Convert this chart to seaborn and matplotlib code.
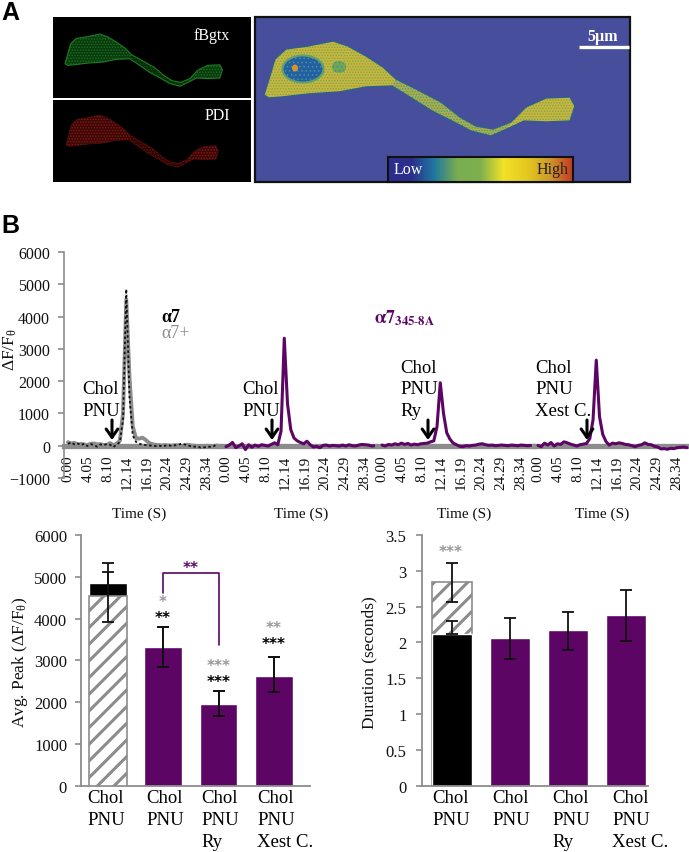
import matplotlib
matplotlib.use('Agg')
import matplotlib.pyplot as plt
import seaborn as sns
import numpy as np
from matplotlib.colors import LinearSegmentedColormap
from matplotlib.patches import Rectangle, Polygon, Ellipse

W, H = 689, 853

# --- traces ---
time_s = [0.00, 0.66, 1.32, 1.98, 2.64, 3.30, 3.96, 4.62, 5.28, 5.94, 6.60, 7.26, 7.92, 8.58, 9.24, 9.90,
          10.56, 11.22, 11.88, 12.54, 13.20, 13.86, 14.52, 15.18, 15.84, 16.50, 17.16, 17.82, 18.48, 19.14,
          19.80, 20.46, 21.12, 21.78, 22.44, 23.10, 23.76, 24.42, 25.08, 25.74, 26.40, 27.06, 27.72, 28.38,
          29.04, 29.70, 30.36]
a7 = [60, 100, 40, 70, 20, 60, -10, 50, 20, -30, 40, 20, 50, 30, -40, 30, 110, 800, 4850, 1500, 320, 120, 60, 40,
      20, 10, 0, -10, 10, -20, 0, 20, -10, 10, 30, 60, 40, 10, -20, -30, -20, -60, -50, -40, -30, -20, 60]
a7_plus = [110, 70, 90, 30, 60, 40, 20, 60, 70, 40, 50, 20, 30, 80, 20, 60, 150, 1000, 4530, 2100, 600, 230, 220, 250,
           180, 90, 50, 30, 20, 10, 20, 10, 0, 20, 10, -10, 10, 30, 10, 0, -10, -20, -10, 0, -10, -20, 10]
mut_pnu = [-30, 20, 100, -60, -10, 60, -120, 30, -50, 20, -20, 30, 10, -10, 40, 90, 30, 450, 3330, 1300, 500, 240, 150, 100,
           60, 140, 30, -40, -20, -60, 10, 20, -10, 10, 0, -10, 20, -10, 30, 0, -10, 20, 40, 30, 20, -10, 0]
mut_ry = [20, -10, 40, 20, 60, 30, 80, 40, 70, 20, 50, 30, 60, 70, 80, 120, 150, 600, 1950, 1000, 400, 200, 80, 30,
          -20, -30, 0, -10, 10, 20, 50, 60, 30, 10, 20, 0, 10, 20, 10, 0, 20, 10, 0, 20, 10, 0, 10]
mut_xest = [10, -30, 80, 20, 100, -10, 60, 40, 120, 90, 50, 20, -10, 30, 50, 70, 220, 800, 2650, 900, 350, 130, 20, 80,
            60, 90, 70, 40, 30, 0, -30, 10, 30, 90, 40, 30, -20, -40, -100, -90, -110, -80, -90, -60, -50, -40, -60]
time_ticks = [0.00, 4.05, 8.10, 12.14, 16.19, 20.24, 24.29, 28.34]
time_labels = ['0.00', '4.05', '8.10', '12.14', '16.19', '20.24', '24.29', '28.34']

# --- bars ---
bar_pos = [0, 1, 2, 3]
peak_vals = [4850, 3310, 1960, 2630]
peak_low = [4370, 2830, 1675, 2234]
peak_high = [5330, 3810, 2258, 3088]
peak_hatch, peak_hatch_low, peak_hatch_high = 4530, 3910, 5122

dur_vals = [2.12, 2.06, 2.17, 2.38]
dur_low = [2.12, 1.77, 1.90, 2.02]
dur_high = [2.30, 2.34, 2.43, 2.73]
dur_hatch, dur_hatch_low, dur_hatch_high = 2.84, 2.56, 3.11
dur_ticks = [0, 0.5, 1, 1.5, 2, 2.5, 3, 3.5]
dur_ticklabels = ['0', '0.5', '1', '1.5', '2', '2.5', '3', '3.5']
bar_labels = ['Chol\nPNU', 'Chol\nPNU', 'Chol\nPNU\nRy', 'Chol\nPNU\nXest C.']

PURPLE = '#5c0565'
GREY = '#8c8c8c'
TXT = '#111111'

sns.set_theme(style='white')
plt.rcParams['font.family'] = ['Liberation Serif', 'DejaVu Serif']
plt.rcParams['mathtext.fontset'] = 'stix'
plt.rcParams['mathtext.default'] = 'regular'

fig = plt.figure(figsize=(W / 100, H / 100), dpi=100, facecolor='white')


def px_axes(l, t, r, b):
    return fig.add_axes([l / W, 1 - b / H, (r - l) / W, (b - t) / H])


# overlay in pixels for the micrographs and free labels
ov = fig.add_axes([0, 0, 1, 1], zorder=10)
ov.set_xlim(0, W)
ov.set_ylim(H, 0)
ov.axis('off')
ov.patch.set_alpha(0)

# --- STEP 1: PANEL A ---
cell_x = [264, 269, 275, 286, 308, 333, 348, 366, 383, 396, 416, 441, 460, 476, 493, 511, 526, 546, 570, 575, 570,
          546, 524, 507, 491, 471, 454, 432, 405, 392, 366, 339, 308, 282, 269]
cell_y = [96, 80, 60, 50, 47, 42, 47, 57, 68, 80, 90, 103, 118, 127, 130, 123, 108, 99, 98, 107, 122,
          123, 122, 130, 137, 132, 123, 112, 95, 87, 88, 93, 95, 98, 99]
cell_x, cell_y = np.array(cell_x), np.array(cell_y)
neurite = list(range(9, 16)) + list(range(23, 30))


def add_cell(fx, fy, face, edge, dots, neur_face, neur_dots, lw):
    # hatch takes the patch edge colour, so fill and outline are separate patches
    plt.rcParams['hatch.linewidth'] = 0.7
    outline = np.c_[fx(cell_x), fy(cell_y)]
    ov.add_patch(Polygon(outline, fc=face, ec=dots, lw=0, hatch='......'))
    ov.add_patch(Polygon(np.c_[fx(cell_x[neurite]), fy(cell_y[neurite])], fc=neur_face, ec=neur_dots, lw=0, hatch='......'))
    ov.add_patch(Polygon(outline, fill=False, ec=edge, lw=lw))


ov.add_patch(Rectangle((53, 18), 198, 81, fc='black', ec='none'))
ov.add_patch(Rectangle((53, 101), 198, 82, fc='black', ec='none'))
ov.add_patch(Rectangle((255, 18), 375, 165, fc='#474e9c', ec='#111111', lw=1.6))

add_cell(lambda x: 65 + (x - 264) * 0.506, lambda y: 35 + (y - 42) * 0.55,
         '#0a3a0e', '#1f7a22', '#17701e', '#062a08', '#0e5014', 0.8)
add_cell(lambda x: 66 + (x - 264) * 0.49, lambda y: 116 + (y - 42) * 0.55,
         '#3a0806', '#55100c', '#8a1712', '#2a0504', '#661009', 0.5)
add_cell(lambda x: x, lambda y: y, '#c9b53e', '#2f5f8f', '#78a84e', '#b0ad45', '#3f9a90', 1.0)

ov.add_patch(Ellipse((303, 70), 41, 27, fc='#245f9f', ec='#3f8fa8', lw=0, hatch='....'))
ov.add_patch(Ellipse((303, 70), 41, 27, fill=False, ec='#5f9f70', lw=1.5))
ov.add_patch(Ellipse((339, 68), 14, 12, fc='#6fa650', ec='#3f8fa8', lw=0, hatch='....'))
ov.add_patch(Ellipse((295, 69), 6, 7, fc='#d8932a', ec='none'))

bar_cols = ['#2b2f8c', '#2b2f8c', '#1f78a0', '#79ad4f', '#7fb04f', '#f2e227', '#e5c81f', '#cf9a2a', '#c23a22']
bar_cmap = LinearSegmentedColormap.from_list('lowhigh', bar_cols)
cax = px_axes(388, 158, 573, 183)
cax.imshow(np.linspace(0, 1, 256)[None, :], aspect='auto', cmap=bar_cmap)
cax.set_xticks([])
cax.set_yticks([])
for s in cax.spines.values():
    s.set_color('#111111')
    s.set_linewidth(1.5)
cax.set_zorder(11)
cax.text(0.03, 0.52, 'Low', color='white', fontsize=11.5, va='center', transform=cax.transAxes)
cax.text(0.975, 0.52, 'High', color='#222222', fontsize=11.5, va='center', ha='right', transform=cax.transAxes)

ov.text(212, 36, 'fBgtx', color='white', fontsize=11.5, ha='center', va='center')
ov.text(217, 116, 'PDI', color='white', fontsize=11.5, ha='center', va='center')
ov.text(603, 37, '5µm', color='white', fontsize=11.5, ha='center', va='center', fontweight='bold')
ov.plot([579, 629], [47.5, 47.5], color='white', lw=2.4, solid_capstyle='butt')
ov.text(1, 13, 'A', family='Liberation Sans', fontweight='bold', fontsize=18, color='black', va='center')
ov.text(1, 226, 'B', family='Liberation Sans', fontweight='bold', fontsize=18, color='black', va='center')

# --- STEP 2: TRACES ---
traces = [(64, 218, mut_pnu), (222, 375, mut_pnu), (378, 533, mut_ry), (534, 689, mut_xest)]
for i, (l, r, vals) in enumerate(traces):
    ax = px_axes(l, 253, r, 479)
    ax.patch.set_alpha(0)
    if i == 0:
        sns.lineplot(x=time_s, y=a7_plus, ax=ax, color=GREY, lw=2.8, estimator=None, errorbar=None)
        sns.lineplot(x=time_s, y=a7, ax=ax, color='#111111', lw=1.3, ls=(0, (1.4, 1.4)), estimator=None, errorbar=None)
    else:
        sns.lineplot(x=time_s, y=vals, ax=ax, color=PURPLE, lw=2.2, estimator=None, errorbar=None)
    ax.set_xlim(-4 / 4.905, (r - l - 4) / 4.905)
    ax.set_ylim(-1000, 6000)
    ax.spines['top'].set_visible(False)
    ax.spines['right'].set_visible(False)
    ax.spines['bottom'].set_position(('data', 0))
    ax.spines['bottom'].set_color(GREY)
    ax.spines['bottom'].set_linewidth(3.8)
    ax.spines['bottom'].set_zorder(1)
    ax.set_xticks(time_ticks)
    ax.set_xticklabels(time_labels, rotation=90, fontsize=11, color=TXT)
    ax.tick_params(axis='x', length=0, pad=6.5)
    if i == 0:
        ax.spines['left'].set_color(GREY)
        ax.spines['left'].set_linewidth(1.2)
        ax.set_yticks(range(-1000, 7000, 1000))
        ax.tick_params(axis='y', length=4, width=1.2, color=GREY, labelsize=11.5, labelcolor=TXT, pad=6, left=True)
    else:
        ax.spines['left'].set_visible(False)
        ax.set_yticks([])

ov.text(10, 350, r'$\Delta$F/F$_{\theta}$', rotation=90, fontsize=12.5, color=TXT, ha='center', va='center')
for x in [139, 301, 464, 602]:
    ov.text(x, 514, 'Time (S)', fontsize=11, color=TXT, ha='center', va='center')

ov.text(161, 317, 'α7', fontsize=13, fontweight='bold', color='black', va='center')
ov.text(161, 333, 'α7+', fontsize=13, color=GREY, va='center')
ov.text(374, 318, r'$\mathbf{\alpha 7}_{\mathbf{345\text{-}8A}}$', fontsize=13, color=PURPLE, va='center')

stim_x = [82, 242, 400, 535]
stim_y = [390, 390, 368, 368]
stim_labels = [['Chol', 'PNU'], ['Chol', 'PNU'], ['Chol', 'PNU', 'Ry'], ['Chol', 'PNU', 'Xest C.']]
arrow_x = [112, 272, 428, 587]
for x, y, lines, ax_x in zip(stim_x, stim_y, stim_labels, arrow_x):
    for j, line in enumerate(lines):
        ov.text(x, y + j * 21.7, line, fontsize=13.5, color='black', va='center')
    ov.annotate('', xy=(ax_x, 441), xytext=(ax_x, 421),
                arrowprops=dict(arrowstyle='->,head_width=0.35,head_length=0.5', color='black', lw=2.2,
                                shrinkA=0, shrinkB=0))

# --- STEP 3: BAR CHARTS ---
plt.rcParams['hatch.linewidth'] = 2.2


def style_bar_axis(ax, pad):
    ax.spines['top'].set_visible(False)
    ax.spines['right'].set_visible(False)
    for side in ['left', 'bottom']:
        ax.spines[side].set_color(GREY)
        ax.spines[side].set_linewidth(1.3)
    ax.set_xticks([])
    ax.tick_params(axis='y', length=4, width=1.2, color=GREY, labelsize=12, labelcolor=TXT, pad=pad, left=True)


# Avg. peak
ax1 = px_axes(81, 536, 310, 786.7)
sns.barplot(x=bar_pos, y=peak_vals, ax=ax1, native_scale=True, width=0.68, errorbar=None,
            palette=['black', PURPLE, PURPLE, PURPLE], hue=bar_pos, legend=False, saturation=1)
ax1.bar(0, peak_hatch, width=0.68, facecolor='white', edgecolor=GREY, hatch='//', lw=1.2, zorder=3)
ax1.errorbar(bar_pos, peak_vals, yerr=[np.array(peak_vals) - peak_low, np.array(peak_high) - peak_vals],
             fmt='none', ecolor='#111111', elinewidth=1.3, capsize=4, capthick=1.3, zorder=2)
ax1.errorbar([1, 2, 3], peak_vals[1:], yerr=[np.array(peak_vals[1:]) - peak_low[1:], np.array(peak_high[1:]) - peak_vals[1:]],
             fmt='none', ecolor='#111111', elinewidth=1.3, capsize=4, capthick=1.3, zorder=4)
ax1.errorbar([0], [peak_hatch], yerr=[[peak_hatch - peak_hatch_low], [peak_hatch_high - peak_hatch]],
             fmt='none', ecolor='#111111', elinewidth=1.3, capsize=4, capthick=1.3, zorder=4)
ax1.plot([1, 1, 2, 2], [4610, 5080, 5080, 3370], color=PURPLE, lw=1.2, zorder=5)
ax1.set_xlim(-27 / 55.3, 202 / 55.3)
ax1.set_ylim(0, 6000)
ax1.set_yticks(range(0, 7000, 1000))
style_bar_axis(ax1, 6)
ax1.set_xlabel('')
ax1.set_ylabel('')
ov.text(20, 662, r'Avg. Peak ($\Delta$F/F$_{\theta}$)', rotation=90, fontsize=12.5, color=TXT, ha='center', va='center')

# Duration
ax2 = px_axes(421.7, 536, 648, 786.7)
sns.barplot(x=bar_pos, y=dur_vals, ax=ax2, native_scale=True, width=0.685, errorbar=None,
            palette=['black', PURPLE, PURPLE, PURPLE], hue=bar_pos, legend=False, saturation=1)
ax2.bar(0, dur_hatch, width=0.685, facecolor='white', edgecolor=GREY, hatch='//', lw=1.2, zorder=1.5)
ax2.bar(0, dur_vals[0], width=0.685, color='black', zorder=2)
ax2.errorbar(bar_pos, dur_vals, yerr=[np.array(dur_vals) - dur_low, np.array(dur_high) - dur_vals],
             fmt='none', ecolor='#111111', elinewidth=1.3, capsize=4, capthick=1.3, zorder=4)
ax2.errorbar([0], [dur_hatch], yerr=[[dur_hatch - dur_hatch_low], [dur_hatch_high - dur_hatch]],
             fmt='none', ecolor='#111111', elinewidth=1.3, capsize=4, capthick=1.3, zorder=4)
ax2.set_xlim(-30 / 58.1, 196.3 / 58.1)
ax2.set_ylim(0, 3.5)
ax2.set_yticks(dur_ticks)
ax2.set_yticklabels(dur_ticklabels)
style_bar_axis(ax2, 7)
ax2.set_xlabel('')
ax2.set_ylabel('')
ov.text(369, 663, 'Duration (seconds)', rotation=90, fontsize=12.5, color=TXT, ha='center', va='center')

# category labels under both charts
for xs in ([87, 146, 201, 257], [432, 492, 552, 612]):
    for x, lab in zip(xs, bar_labels):
        for j, line in enumerate(lab.split('\n')):
            ov.text(x, 799 + j * 22, line, fontsize=13.5, color='black', va='center')

# significance stars
stars = [(163, 602, '*', '#999999'), (163, 619, '**', 'black'), (219, 667, '***', '#999999'), (219, 682, '***', 'black'),
         (274, 629, '**', '#999999'), (274, 644, '***', 'black'), (191, 568, '**', PURPLE), (451, 553, '***', '#999999')]
for x, y, s, c in stars:
    ov.text(x, y, s, color=c, ha='center', va='center', family='DejaVu Sans', fontweight='bold', fontsize=11)

fig.savefig('out.png', dpi=100)
plt.close()
